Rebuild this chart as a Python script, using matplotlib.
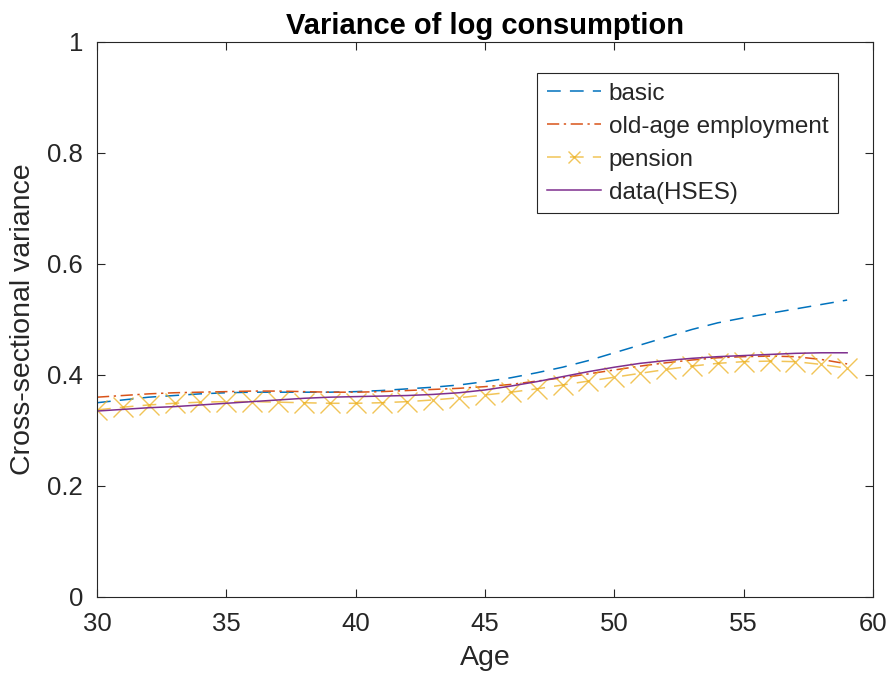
import matplotlib.pyplot as plt
import numpy as np

plt.rcParams['font.family'] = ['Liberation Sans', 'DejaVu Sans']

age = list(range(30, 60))
basic = [0.350, 0.355, 0.360, 0.363, 0.366, 0.368, 0.369, 0.369, 0.369, 0.369,
         0.370, 0.372, 0.375, 0.378, 0.382, 0.388, 0.395, 0.404, 0.414, 0.426,
         0.440, 0.454, 0.468, 0.482, 0.494, 0.503, 0.511, 0.519, 0.527, 0.535]
old_age = [0.360, 0.363, 0.366, 0.368, 0.369, 0.370, 0.371, 0.371, 0.370, 0.369,
           0.369, 0.370, 0.372, 0.374, 0.376, 0.379, 0.383, 0.389, 0.395, 0.402,
           0.409, 0.416, 0.422, 0.427, 0.431, 0.433, 0.434, 0.433, 0.428, 0.420]
pension = [0.337, 0.342, 0.346, 0.349, 0.351, 0.352, 0.352, 0.351, 0.350, 0.349,
           0.349, 0.350, 0.352, 0.355, 0.359, 0.364, 0.369, 0.375, 0.382, 0.389,
           0.396, 0.403, 0.410, 0.416, 0.421, 0.424, 0.425, 0.424, 0.419, 0.412]
data_hses = [0.335, 0.338, 0.341, 0.343, 0.346, 0.349, 0.352, 0.355, 0.358, 0.360,
             0.361, 0.362, 0.363, 0.365, 0.368, 0.373, 0.380, 0.388, 0.397, 0.406,
             0.414, 0.421, 0.426, 0.430, 0.433, 0.435, 0.437, 0.439, 0.440, 0.440]

fig = plt.figure(figsize=(8.93, 6.85), dpi=100)
ax = fig.add_axes([0.1086, 0.1285, 0.869, 0.8102])

ax.plot(age, basic, '--', color='#0072BD', lw=1.1, dashes=(9, 6), label='basic')
ax.plot(age, old_age, '-.', color='#D95319', lw=1.1, dashes=(8, 3, 1.5, 3), label='old-age employment')
ax.plot(age, pension, '--', color='#EDB120', lw=1.1, dashes=(9, 6), marker='x',
        markersize=14, markeredgewidth=1.0, alpha=0.75, label='pension')
ax.plot(age, data_hses, '-', color='#7E2F8E', lw=1.1, label='data(HSES)')

ax.set_xlim(30, 60)
ax.set_ylim(0, 1)
ax.set_xticks([30, 35, 40, 45, 50, 55, 60])
ax.set_yticks([0, 0.2, 0.4, 0.6, 0.8, 1])
ax.set_yticklabels(['0', '0.2', '0.4', '0.6', '0.8', '1'])
ax.tick_params(direction='in', length=6, labelsize=18.5, colors='#262626', top=True, right=True)
ax.tick_params(axis='x', pad=11)
ax.tick_params(axis='y', pad=10)
for s in ax.spines.values():
    s.set_color('#262626')
    s.set_linewidth(0.8)

ax.set_xlabel('Age', fontsize=20.5, color='#262626', labelpad=6)
ax.set_ylabel('Cross-sectional variance', fontsize=20.5, color='#262626', labelpad=8)
ax.set_title('Variance of log consumption', fontsize=21, fontweight='bold', pad=6)

leg = ax.legend(loc='upper right', bbox_to_anchor=(0.955, 0.944), fontsize=17.5,
                fancybox=False, framealpha=1, edgecolor='#262626', borderpad=0.4,
                handlelength=2.25, borderaxespad=0, handletextpad=0.3, labelspacing=0.45)
leg.get_frame().set_linewidth(0.8)
for t in leg.get_texts():
    t.set_color('#262626')
# smaller marker in the legend entry, as in the reference
leg.legend_handles[2].set_markersize(9)

fig.savefig('out.png', dpi=100)
